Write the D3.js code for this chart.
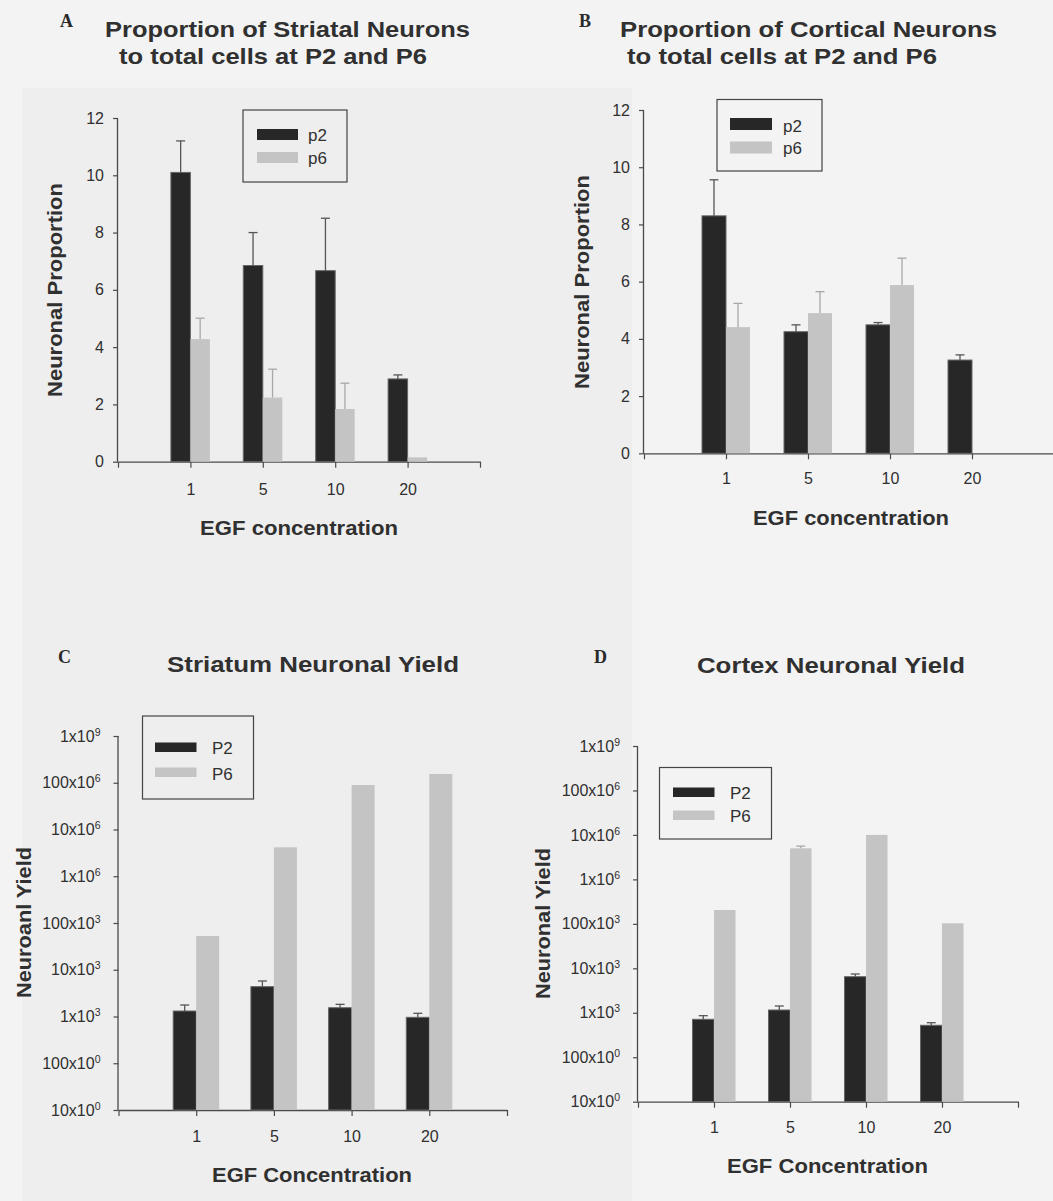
<!DOCTYPE html>
<html>
<head>
<meta charset="utf-8">
<script src="https://cdn.jsdelivr.net/npm/d3@7"></script>
<style>
  body { margin: 0; background: #f2f2f2; }
  svg { display: block; }
</style>
</head>
<body>
<svg id="fig" width="1053" height="1201"></svg>
<script>
// ---- data -------------------------------------------------------------
const egfLevels = ["1", "5", "10", "20"];
const proportionSeries = ["p2", "p6"];
const yieldSeries = ["P2", "P6"];

// A: striatal neurons as a proportion of total cells
const striatalPropP2 = [10.1, 6.85, 6.67, 2.89];
const striatalPropP2Err = [1.1, 1.15, 1.83, 0.14];
const striatalPropP6 = [4.28, 2.24, 1.84, 0.15];
const striatalPropP6Err = [0.73, 0.99, 0.9, 0];

// B: cortical neurons as a proportion of total cells
const corticalPropP2 = [8.3, 4.25, 4.49, 3.26];
const corticalPropP2Err = [1.26, 0.24, 0.08, 0.18];
const corticalPropP6 = [4.41, 4.9, 5.88, 0];
const corticalPropP6Err = [0.83, 0.75, 0.94, 0];

// C: striatum neuronal yield
const striatumYieldP2 = [1310, 4350, 1540, 960];
const striatumYieldP2Err = [450, 1400, 280, 210];
const striatumYieldP6 = [52700, 4.16e6, 8.95e7, 1.54e8];
const striatumYieldP6Err = [0, 0, 0, 0];

// D: cortex neuronal yield
const cortexYieldP2 = [713, 1155, 6480, 523];
const cortexYieldP2Err = [147, 265, 970, 75];
const cortexYieldP6 = [2.05e5, 5.0e6, 1.0e7, 1.03e5];
const cortexYieldP6Err = [0, 6e5, 0, 0];

// axis ticks
const proportionTicks = [0, 2, 4, 6, 8, 10, 12];
const yieldTicks = [1e1, 1e2, 1e3, 1e4, 1e5, 1e6, 1e7, 1e8, 1e9];
const yieldTickMantissas = ["10", "100", "1", "10", "100", "1", "10", "100", "1"];
const yieldTickExponents = ["0", "0", "3", "3", "3", "6", "6", "6", "9"];

// ---- styling -----------------------------------------------------------
const SANS = "'Liberation Sans', Arial, Helvetica, sans-serif";
const SERIF = "'Liberation Serif', 'Times New Roman', serif";
const TEXT = "#303030";
const AXIS = "#4a4a4a";
const DARK = "#272727";
const DARK_EDGE = "#666";
const LIGHT = "#c4c4c4";

const svg = d3.select("#fig");
svg.append("rect").attr("width", 1053).attr("height", 1201).attr("fill", "#f3f3f3");
svg.append("rect").attr("x", 22).attr("y", 88).attr("width", 610).attr("height", 1113).attr("fill", "#eeeeee");

// ---- panels ------------------------------------------------------------
const panels = [
  {
    letter: "A", letterPos: [60, 27],
    titles: [
      { text: "Proportion of Striatal Neurons", x: 105, y: 37, len: 365 },
      { text: "to total cells at P2 and P6", x: 119, y: 64, len: 308 }
    ],
    yLabel: { text: "Neuronal Proportion", x: 62, y: 397, len: 214 },
    xLabel: { text: "EGF concentration", x: 200, y: 535, len: 198 },
    x0: 118, x1: 480, yTop: 118, yBot: 461.7, barW: 19.5, xTickY: 495,
    log: false,
    values: [striatalPropP2, striatalPropP6], errs: [striatalPropP2Err, striatalPropP6Err],
    names: proportionSeries,
    legend: { x: 243, y: 110, w: 104, h: 72, sx: 257, sw: 41, sy: [129, 152], sh: 11, lx: 308, ly: [141, 163.5] }
  },
  {
    letter: "B", letterPos: [579, 27],
    titles: [
      { text: "Proportion of Cortical Neurons", x: 620, y: 37, len: 377 },
      { text: "to total cells at P2 and P6", x: 627, y: 64, len: 310 }
    ],
    yLabel: { text: "Neuronal Proportion", x: 589, y: 389, len: 214 },
    xLabel: { text: "EGF concentration", x: 753, y: 525, len: 196 },
    x0: 644, x1: 1054, yTop: 110, yBot: 453.3, barW: 24, xTickY: 484,
    log: false,
    values: [corticalPropP2, corticalPropP6], errs: [corticalPropP2Err, corticalPropP6Err],
    names: proportionSeries,
    legend: { x: 717, y: 99.5, w: 105, h: 71.5, sx: 730, sw: 42, sy: [118, 141.5], sh: 12, lx: 783, ly: [131.5, 154] }
  },
  {
    letter: "C", letterPos: [58, 663],
    titles: [ { text: "Striatum Neuronal Yield", x: 167, y: 672, len: 292 } ],
    yLabel: { text: "Neuroanl Yield", x: 30.5, y: 998, len: 151 },
    xLabel: { text: "EGF Concentration", x: 212, y: 1181.5, len: 200 },
    x0: 118.5, x1: 507, yTop: 736, yBot: 1110, barW: 23, xTickY: 1142,
    log: true,
    values: [striatumYieldP2, striatumYieldP6], errs: [striatumYieldP2Err, striatumYieldP6Err],
    names: yieldSeries,
    legend: { x: 142.5, y: 716, w: 111, h: 83, sx: 155, sw: 41.5, sy: [742.5, 767.5], sh: 9.5, lx: 212, ly: [754, 779.5] }
  },
  {
    letter: "D", letterPos: [594, 663],
    titles: [ { text: "Cortex Neuronal Yield", x: 697, y: 673, len: 268 } ],
    yLabel: { text: "Neuronal Yield", x: 549.5, y: 999, len: 151 },
    xLabel: { text: "EGF Concentration", x: 727, y: 1173, len: 201 },
    x0: 638, x1: 1018, yTop: 746, yBot: 1101.7, barW: 21.5, xTickY: 1133,
    log: true,
    values: [cortexYieldP2, cortexYieldP6], errs: [cortexYieldP2Err, cortexYieldP6Err],
    names: yieldSeries,
    legend: { x: 659.5, y: 767.5, w: 112, h: 71.5, sx: 673, sw: 41.5, sy: [787.5, 810.5], sh: 9.5, lx: 730, ly: [798.5, 822] }
  }
];

panels.forEach(drawPanel);

function drawPanel(p) {
  const g = svg.append("g").attr("class", "panel-" + p.letter);

  // panel letter and title
  g.append("text")
    .attr("x", p.letterPos[0]).attr("y", p.letterPos[1])
    .attr("font-family", SERIF).attr("font-weight", "bold").attr("font-size", 18)
    .attr("fill", "#2a2a2a").text(p.letter);

  p.titles.forEach(t => {
    g.append("text")
      .attr("x", t.x).attr("y", t.y)
      .attr("font-family", SANS).attr("font-weight", "bold").attr("font-size", 22)
      .attr("textLength", t.len).attr("lengthAdjust", "spacingAndGlyphs")
      .attr("fill", TEXT).text(t.text);
  });

  // scales
  const x = d3.scaleLinear().domain([0, egfLevels.length + 1]).range([p.x0, p.x1]);
  const y = p.log
    ? d3.scaleLog().domain([10, 1e9]).range([p.yBot, p.yTop])
    : d3.scaleLinear().domain([0, 12]).range([p.yBot, p.yTop]);

  // y axis
  const yAxis = p.log
    ? d3.axisLeft(y).tickValues(yieldTicks).tickSize(5).tickPadding(7).tickFormat(() => "")
    : d3.axisLeft(y).tickValues(proportionTicks).tickSize(5).tickPadding(9).tickFormat(d3.format("d"));
  const yg = g.append("g").attr("transform", `translate(${p.x0},0)`).call(yAxis);
  yg.select(".domain").attr("d", `M-0.5,${p.yTop}V${p.yBot}`);
  styleAxis(yg);
  yg.selectAll("text").attr("font-size", 16);
  if (p.log) {
    yg.selectAll(".tick text").each(function (d, i) {
      const t = d3.select(this);
      t.text(null).attr("dx", -6);
      t.append("tspan").text(yieldTickMantissas[i] + "x10");
      t.append("tspan").attr("dy", -6).attr("font-size", 10.5).text(yieldTickExponents[i]);
    });
  }

  // x axis: ticks at each category plus both ends of the line
  const xTicks = d3.range(0, egfLevels.length + 2);
  const xAxis = d3.axisBottom(x).tickValues(xTicks).tickSize(6).tickSizeOuter(0)
    .tickFormat(d => (d >= 1 && d <= egfLevels.length) ? egfLevels[d - 1] : "");
  const xg = g.append("g").attr("transform", `translate(0,${p.yBot})`).call(xAxis);
  styleAxis(xg);
  xg.selectAll("text").attr("font-size", 16).attr("y", null).attr("dy", null)
    .attr("transform", `translate(0,${p.xTickY - p.yBot})`);

  // bars
  const base = p.log ? 10 : 0;
  p.values.forEach((vals, s) => {
    const rows = vals.map((v, i) => ({ v, e: p.errs[s][i], i }));
    const bx = d => s === 0 ? x(d.i + 1) - p.barW : x(d.i + 1);
    g.append("g").selectAll("rect")
      .data(rows.filter(d => d.v > base))
      .join("rect")
      .attr("x", bx)
      .attr("y", d => y(d.v))
      .attr("width", p.barW)
      .attr("height", d => y(base) - y(d.v))
      .attr("fill", s === 0 ? DARK : LIGHT)
      .attr("stroke", s === 0 ? DARK_EDGE : "none")
      .attr("stroke-width", 1);

    // upper error bars
    const eg = g.append("g")
      .attr("stroke", s === 0 ? "#555" : "#a8a8a8")
      .attr("stroke-width", 1.3);
    rows.filter(d => d.e > 0).forEach(d => {
      const cx = bx(d) + p.barW / 2;
      const top = y(d.v + d.e);
      eg.append("line").attr("x1", cx).attr("x2", cx).attr("y1", y(d.v)).attr("y2", top);
      eg.append("line").attr("x1", cx - 4.5).attr("x2", cx + 4.5).attr("y1", top).attr("y2", top);
    });
  });

  // legend
  const L = p.legend;
  const lg = g.append("g");
  lg.append("rect").attr("x", L.x).attr("y", L.y).attr("width", L.w).attr("height", L.h)
    .attr("fill", "none").attr("stroke", "#444").attr("stroke-width", 1.2);
  p.names.forEach((name, s) => {
    lg.append("rect").attr("x", L.sx).attr("y", L.sy[s]).attr("width", L.sw).attr("height", L.sh)
      .attr("fill", s === 0 ? DARK : LIGHT);
    lg.append("text").attr("x", L.lx).attr("y", L.ly[s])
      .attr("font-family", SANS).attr("font-size", 17).attr("fill", TEXT).text(name);
  });

  // axis titles
  g.append("text")
    .attr("transform", `translate(${p.yLabel.x},${p.yLabel.y}) rotate(-90)`)
    .attr("font-family", SANS).attr("font-weight", "bold").attr("font-size", 20)
    .attr("textLength", p.yLabel.len).attr("lengthAdjust", "spacingAndGlyphs")
    .attr("fill", TEXT).text(p.yLabel.text);
  g.append("text")
    .attr("x", p.xLabel.x).attr("y", p.xLabel.y)
    .attr("font-family", SANS).attr("font-weight", "bold").attr("font-size", 20)
    .attr("textLength", p.xLabel.len).attr("lengthAdjust", "spacingAndGlyphs")
    .attr("fill", TEXT).text(p.xLabel.text);
}

function styleAxis(sel) {
  sel.attr("font-family", SANS);
  sel.select(".domain").attr("stroke", AXIS).attr("stroke-width", 1.3);
  sel.selectAll(".tick line").attr("stroke", AXIS).attr("stroke-width", 1.2);
  sel.selectAll(".tick text").attr("fill", TEXT);
}
</script>
</body>
</html>
